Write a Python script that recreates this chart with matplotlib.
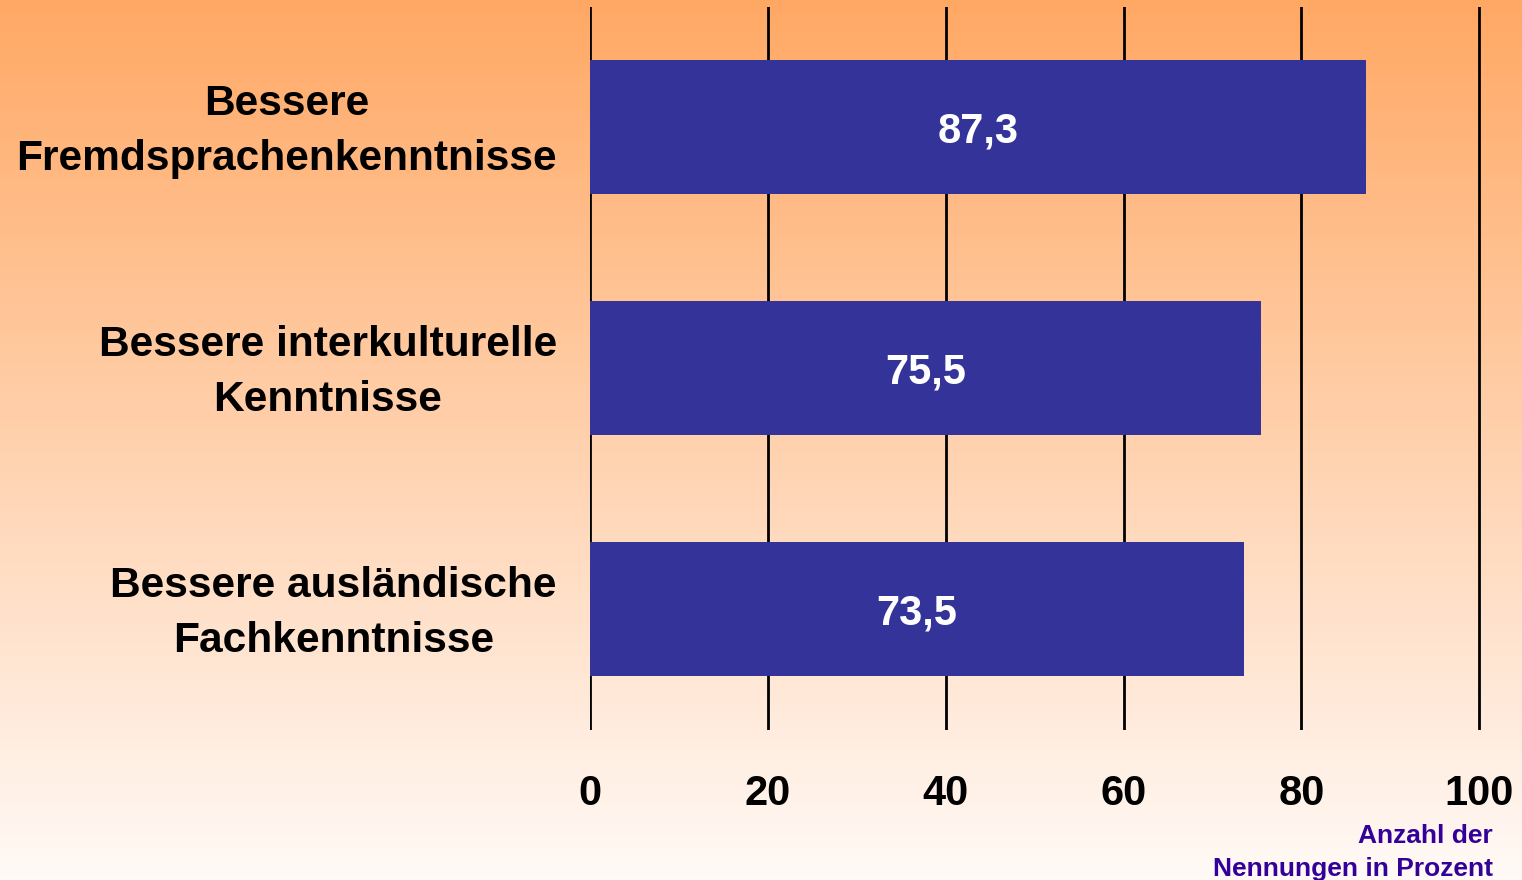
import numpy as np
import matplotlib.pyplot as plt

# ── Data ────────────────────────────────────────────────────────────────────
categories = [
    "Bessere\nFremdsprachenkenntnisse",
    "Bessere interkulturelle\nKenntnisse",
    "Bessere ausländische\nFachkenntnisse",
]
values = [87.3, 75.5, 73.5]
value_labels = ["87,3", "75,5", "73,5"]
x_ticks = [0, 20, 40, 60, 80, 100]
axis_note = "Anzahl der\nNennungen in Prozent"

BAR_COLOR = "#333399"
NOTE_COLOR = "#330099"

plt.rcParams["font.family"] = ["Liberation Sans", "DejaVu Sans"]
plt.rcParams["font.weight"] = "bold"

fig = plt.figure(figsize=(15.22, 8.8), dpi=100)

# ── Background gradient (orange top -> almost white bottom) ────────────────
bg = fig.add_axes([0, 0, 1, 1], zorder=0)
top = np.array([255, 168, 100]) / 255
bot = np.array([255, 250, 247]) / 255
t = np.linspace(0, 1, 256)[:, None]
grad = top * (1 - t) + bot * t
bg.imshow(grad[:, None, :], aspect="auto", extent=[0, 1, 0, 1])
bg.axis("off")

# ── Bar chart ───────────────────────────────────────────────────────────────
ax = fig.add_axes([0.3876, 0.1705, 0.5861, 0.8216], zorder=1)
ax.patch.set_alpha(0)
y = np.arange(len(categories))
ax.barh(y, values, height=0.556, color=BAR_COLOR, zorder=3)

for yi, v, lab in zip(y, values, value_labels):
    ax.text(v / 2, yi + 0.015, lab, ha="center", va="center", color="white",
            fontsize=30, fontweight="bold", zorder=4)

# category labels, centred block, right edge just left of the axis
for yi, cat in zip(y, categories):
    ax.text(-0.037, yi + 0.017, cat, transform=ax.get_yaxis_transform(),
            ha="right", va="center", multialignment="center",
            fontsize=30.6, fontweight="bold", linespacing=1.5)

ax.set_xlim(0, 100.3)
ax.set_ylim(2.5, -0.5)
ax.set_xticks(x_ticks)
ax.set_xticklabels([str(v) for v in x_ticks], fontsize=30, fontweight="bold")
ax.set_yticks([])
ax.tick_params(axis="both", length=0)
ax.tick_params(axis="x", pad=32)

ax.xaxis.grid(True, color="black", linewidth=2, zorder=1)
for s in ax.spines.values():
    s.set_visible(False)

fig.text(0.981, -0.001, axis_note, ha="right", va="bottom", color=NOTE_COLOR,
         fontsize=19, fontweight="bold", linespacing=1.48)

fig.savefig("out.png", dpi=100)
